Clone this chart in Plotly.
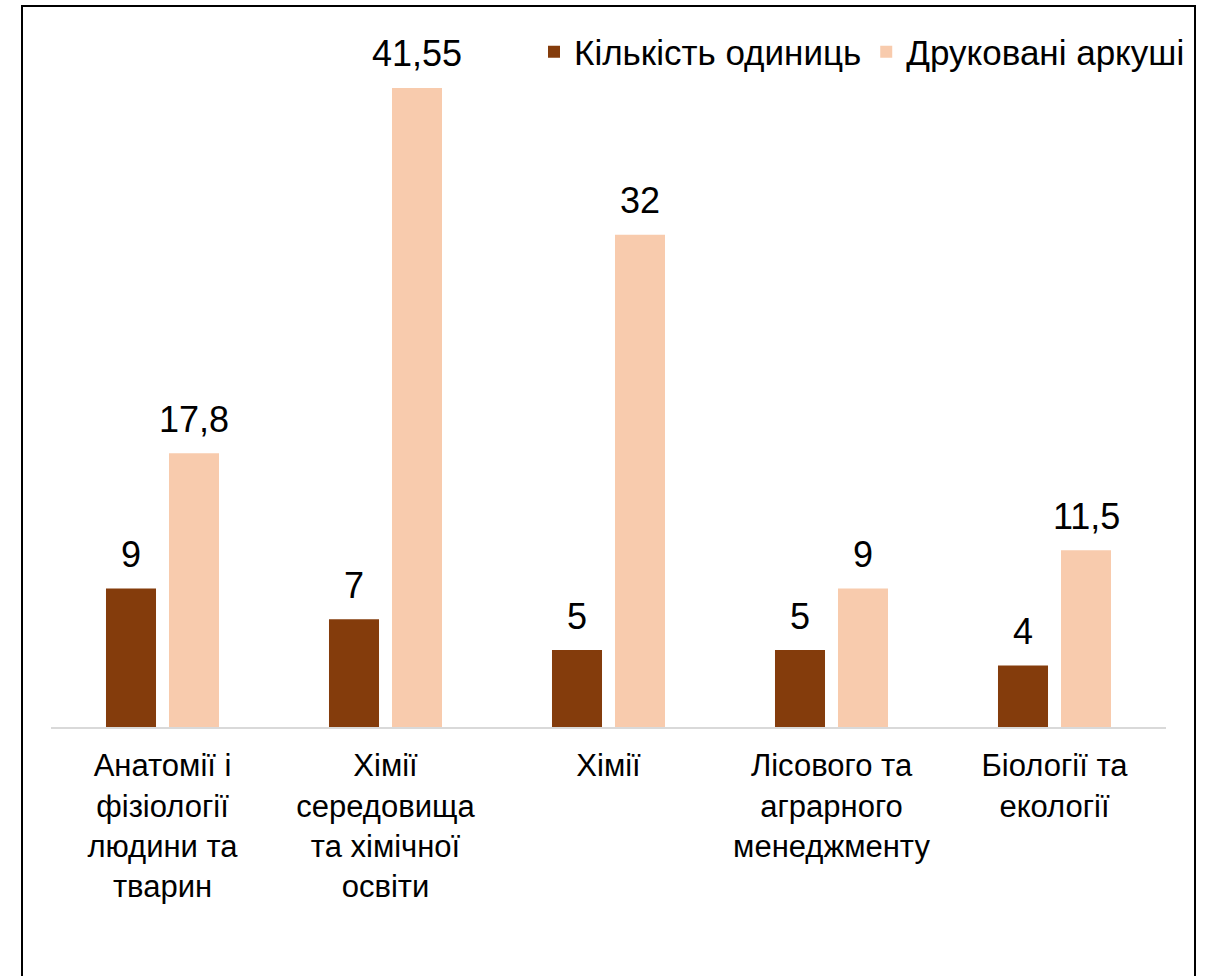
import plotly.graph_objects as go

categories = [
    "Анатомії і<br>фізіології<br>людини та<br>тварин",
    "Хімії<br>середовища<br>та хімічної<br>освіти",
    "Хімії",
    "Лісового та<br>аграрного<br>менеджменту",
    "Біології та<br>екології",
]
units = [9, 7, 5, 5, 4]
sheets = [17.8, 41.55, 32, 9, 11.5]
series_names = ["Кількість одиниць", "Друковані аркуші"]
colors = ["#843C0C", "#F8CBAD"]

FONT = "Liberation Sans, Arial, sans-serif"

# layout geometry (pixels)
W, H = 1206, 976
L, R, T, B = 51, 40, 58, 249
PW, PH = W - L - R, H - T - B
PX_PER_UNIT = 15.38


def fmt(v):
    s = ("%g" % v)
    return s.replace(".", ",")


fig = go.Figure()
fig.add_trace(go.Bar(x=categories, y=units, name=series_names[0],
                     marker=dict(color=colors[0], line=dict(width=0))))
fig.add_trace(go.Bar(x=categories, y=sheets, name=series_names[1],
                     marker=dict(color=colors[1], line=dict(width=0))))

annotations = []
for vals, shift in ((units, -31.5), (sheets, 31.5)):
    for c, v in zip(categories, vals):
        annotations.append(dict(x=c, y=v, xref="x", yref="y", text=fmt(v),
                                showarrow=False, xshift=shift, yshift=34,
                                yanchor="middle",
                                font=dict(family=FONT, size=36, color="#000000")))

bottom_px = T + PH
fig.update_layout(
    width=W, height=H,
    margin=dict(l=L, r=R, t=T, b=B, pad=0, autoexpand=False),
    paper_bgcolor="white", plot_bgcolor="white",
    barmode="group", bargap=0.435, bargroupgap=0.206,
    font=dict(family=FONT, size=31, color="#000000"),
    showlegend=True,
    legend=dict(orientation="h", x=(1190 - L) / PW, xanchor="right",
                y=(bottom_px - 52) / PH, yanchor="middle",
                font=dict(family=FONT, size=35, color="#000000"),
                bgcolor="rgba(0,0,0,0)", traceorder="normal",
                itemwidth=30),
    xaxis=dict(showgrid=False, showline=True, linecolor="#D9D9D9", linewidth=2,
               ticks="", tickfont=dict(family=FONT, size=31, color="#000000"),
               tickangle=0, ticklabelstandoff=10),
    yaxis=dict(range=[0, PH / PX_PER_UNIT], visible=False, showgrid=False, zeroline=False),
    annotations=annotations,
    shapes=[dict(type="rect", xref="paper", yref="paper",
                 x0=(22 - L) / PW, x1=(1195 - L) / PW,
                 y0=(bottom_px - 1000) / PH, y1=(bottom_px - 6) / PH,
                 line=dict(color="#000000", width=2), fillcolor="rgba(0,0,0,0)")],
)

fig.write_html("out.html", config={"displayModeBar": False},
               post_script="document.body.style.margin='0';")
